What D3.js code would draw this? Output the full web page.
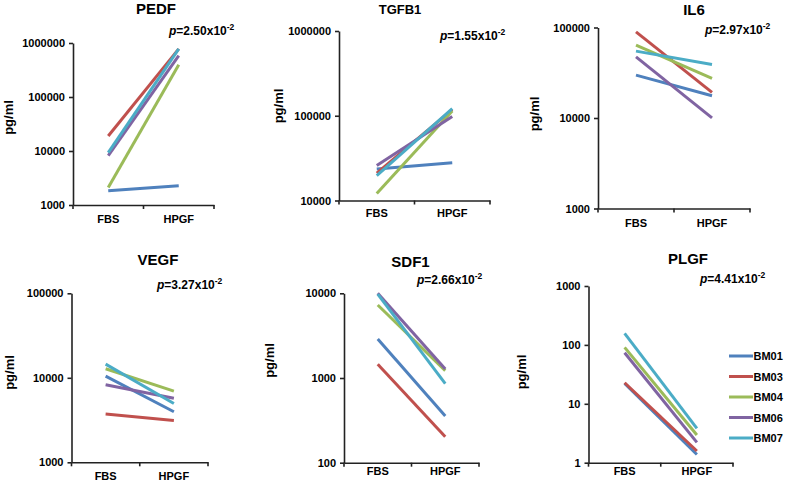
<!DOCTYPE html>
<html>
<head>
<meta charset="utf-8">
<script src="https://cdn.jsdelivr.net/npm/d3@7"></script>
<style>
  html, body { margin: 0; padding: 0; background: #fff; }
  svg { display: block; }
  text { font-family: "Liberation Sans", Arial, Helvetica, sans-serif; font-weight: bold; fill: #000; }
</style>
</head>
<body>
<svg id="chart" width="785" height="484"></svg>
<script>
// ---------- DATA ----------
const samples = ["BM01", "BM03", "BM04", "BM06", "BM07"];
const conditions = ["FBS", "HPGF"];
const sampleColors = ["#4F81BD", "#C0504D", "#9BBB59", "#8064A2", "#4BACC6"];

const panelNames = ["PEDF", "TGFB1", "IL6", "VEGF", "SDF1", "PLGF"];
const pValueMantissas = ["2.50", "1.55", "2.97", "3.27", "2.66", "4.41"];
const pValueExponents = ["-2", "-2", "-2", "-2", "-2", "-2"];

// values per sample: [FBS, HPGF], sample order = samples
const pedfValues  = [[1840, 2280], [19000, 780000], [2100, 395000], [8200, 585000], [9300, 780000]];
const tgfb1Values = [[23600, 27900], [21000, 118000], [12100, 114000], [25800, 98000], [19700, 121000]];
const il6Values   = [[29800, 17600], [89500, 19200], [63800, 27400], [47400, 10050], [54800, 39100]];
const vegfValues  = [[10460, 3960], [3720, 3130], [12780, 6950], [8260, 5740], [14520, 4970]];
const sdf1Values  = [[2890, 356], [1450, 203], [7280, 1220], [10000, 1277], [9800, 857]];
const plgfValues  = [[22.2, 1.38], [22.8, 1.58], [90.8, 2.95], [73.7, 2.21], [157, 3.83]];

const pedfTicks  = [1000, 10000, 100000, 1000000];
const tgfb1Ticks = [10000, 100000, 1000000];
const il6Ticks   = [1000, 10000, 100000];
const vegfTicks  = [1000, 10000, 100000];
const sdf1Ticks  = [100, 1000, 10000];
const plgfTicks  = [1, 10, 100, 1000];

const panelValues = [pedfValues, tgfb1Values, il6Values, vegfValues, sdf1Values, plgfValues];
const panelTicks  = [pedfTicks, tgfb1Ticks, il6Ticks, vegfTicks, sdf1Ticks, plgfTicks];

// ---------- LAYOUT ----------
const layout = [
  { x0: 73,  x1: 214, yTop: 43,  yBot: 205,   title: [156, 14, 15], p: [169, 35], yl: [8.5, 117.5], xl: 17.5 },
  { x0: 339, x1: 490, yTop: 31,  yBot: 200.5, title: [400, 14, 13], p: [440, 40], yl: [278.5, 106], xl: 16.5 },
  { x0: 598, x1: 750, yTop: 27.5,yBot: 208.5, title: [694, 15, 15], p: [705, 34], yl: [534.5, 114], xl: 18 },
  { x0: 71.5,x1: 208, yTop: 293.3,yBot: 462.3,title: [158, 265, 15], p: [157, 289], yl: [9, 372.5], xl: 18 },
  { x0: 344, x1: 479, yTop: 293.3,yBot: 462.7,title: [410.5, 267, 15], p: [417, 284], yl: [269, 360.5], xl: 12.5 },
  { x0: 588.5,x1: 733, yTop: 286, yBot: 462.7,title: [688, 264, 15], p: [700, 283], yl: [521, 372], xl: 12.5 }
];

const svg = d3.select("#chart");

panelNames.forEach((name, i) => {
  const L = layout[i];
  const ticks = panelTicks[i];
  const vals = panelValues[i];
  const g = svg.append("g");

  const y = d3.scaleLog().domain([ticks[0], ticks[ticks.length - 1]]).range([L.yBot, L.yTop]);
  const x = d3.scaleBand().domain(conditions).range([L.x0, L.x1]);

  // Y axis
  const yAxis = d3.axisLeft(y).tickValues(ticks).tickFormat(d3.format("d")).tickSize(4).tickSizeOuter(0).tickPadding(4);
  const yg = g.append("g").attr("transform", `translate(${L.x0},0)`).call(yAxis);
  yg.select(".domain").attr("stroke", "#222").attr("stroke-width", 1.6);
  yg.selectAll(".tick line").attr("stroke", "#222").attr("stroke-width", 1.6);
  yg.selectAll(".tick text").attr("font-size", 11).attr("font-weight", "bold")
    .attr("font-family", "Liberation Sans, Arial, sans-serif").attr("fill", "#000");

  // X axis
  const xAxis = d3.axisBottom(x).tickSize(0).tickSizeOuter(0).tickPadding(L.xl - 10);
  const xg = g.append("g").attr("transform", `translate(0,${L.yBot})`).call(xAxis);
  xg.select(".domain").attr("stroke", "#222").attr("stroke-width", 1.6);
  xg.selectAll(".tick text").attr("font-size", 11).attr("font-weight", "bold")
    .attr("font-family", "Liberation Sans, Arial, sans-serif").attr("fill", "#000")
    .attr("dy", null).attr("y", L.xl).attr("dominant-baseline", "auto");
  const bounds = [x.range()[0], x(conditions[1]), x.range()[1]];
  xg.selectAll("line.bnd").data(bounds).enter().append("line")
    .attr("class", "bnd")
    .attr("x1", d => d).attr("x2", d => d).attr("y1", 0).attr("y2", 4)
    .attr("stroke", "#222").attr("stroke-width", 1.6);

  // Lines
  const line = d3.line()
    .x((d, j) => x(conditions[j]) + x.bandwidth() / 2)
    .y(d => y(d));
  g.selectAll("path.series").data(vals).enter().append("path")
    .attr("class", "series")
    .attr("d", d => line(d))
    .attr("fill", "none")
    .attr("stroke", (d, k) => sampleColors[k])
    .attr("stroke-width", 3);

  // Title
  g.append("text").attr("x", L.title[0]).attr("y", L.title[1])
    .attr("text-anchor", "middle").attr("font-size", L.title[2]).text(name);

  // p-value
  const pt = g.append("text").attr("x", L.p[0]).attr("y", L.p[1]).attr("font-size", 12);
  pt.append("tspan").attr("font-style", "italic").text("p");
  pt.append("tspan").text("=" + pValueMantissas[i] + "x10");
  pt.append("tspan").attr("font-size", 8.5).attr("dy", -5).text(pValueExponents[i]);

  // Y axis title
  g.append("text")
    .attr("transform", `translate(${L.yl[0]},${L.yl[1]}) rotate(-90)`)
    .attr("text-anchor", "middle").attr("dominant-baseline", "central")
    .attr("font-size", 13).text("pg/ml");
});

// Legend
const legend = svg.append("g");
const legendY = d3.scalePoint().domain(samples).range([356, 438]);
samples.forEach((s, k) => {
  legend.append("line")
    .attr("x1", 729).attr("x2", 753)
    .attr("y1", legendY(s)).attr("y2", legendY(s))
    .attr("stroke", sampleColors[k]).attr("stroke-width", 3);
  legend.append("text").attr("x", 753.5).attr("y", legendY(s))
    .attr("dominant-baseline", "central").attr("font-size", 11).text(s);
});
</script>
</body>
</html>
